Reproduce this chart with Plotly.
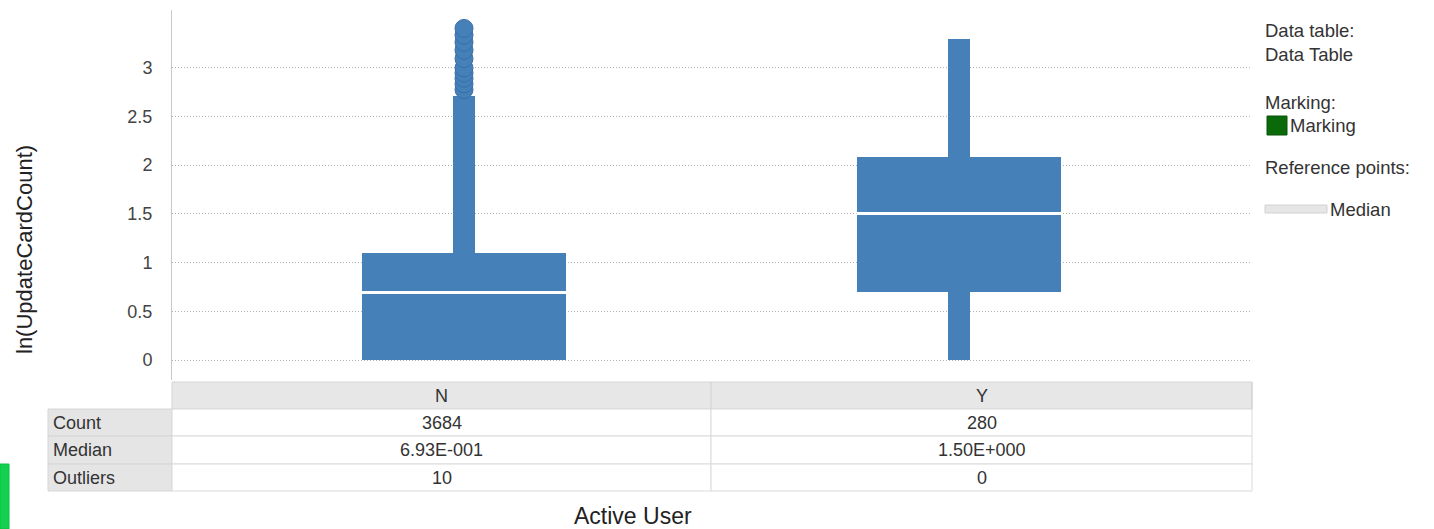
import plotly.graph_objects as go

# ---------------- data ----------------
categories = ["N", "Y"]
q1 = [0.0, 0.693]
median = [0.693, 1.504]
q3 = [1.099, 2.079]
whisker_low = [0.0, 0.0]
whisker_high = [2.708, 3.296]
outliers_N = [2.773, 2.833, 2.890, 2.944, 2.996, 3.091, 3.178, 3.258, 3.332, 3.401]
counts = [3684, 280]
outlier_counts = [10, 0]
ytick_vals = [0, 0.5, 1, 1.5, 2, 2.5, 3]
ytick_text = ["0", "0.5", "1", "1.5", "2", "2.5", "3"]
row_labels = ["Count", "Median", "Outliers"]

# ---------------- layout constants ----------------
W, H = 1434, 529
L, R, T, B = 172, 182, 10, 149
PW, PH = W - L - R, H - T - B
BLUE = "#4580b8"
FONT = "Liberation Sans, Arial, sans-serif"
TXT = "#333333"
BOX_W = 0.414
WHISK_W = 0.046


def px(xp):
    return (xp - L) / PW


def py(yp):
    return (H - B - yp) / PH


def sci(v):
    s = f"{v:.2E}"
    mant, exp = s.split("E")
    sign = exp[0]
    return f"{mant}E{sign}{int(exp[1:]):03d}"


xs = list(range(len(categories)))

fig = go.Figure()

# whiskers
fig.add_trace(go.Bar(
    x=xs, base=whisker_low,
    y=[h - l for h, l in zip(whisker_high, whisker_low)],
    width=WHISK_W, marker=dict(color=BLUE, line=dict(width=0)),
    hoverinfo="skip", showlegend=False))
# boxes
fig.add_trace(go.Bar(
    x=xs, base=q1, y=[b - a for a, b in zip(q1, q3)],
    width=BOX_W, marker=dict(color=BLUE, line=dict(width=0)),
    showlegend=False))
# outliers
fig.add_trace(go.Scatter(
    x=[xs[0]] * len(outliers_N), y=outliers_N, mode="markers",
    marker=dict(size=18, color=BLUE, line=dict(color="#3a6fa6", width=1)),
    showlegend=False))

shapes = []
# median lines
for xi, m in zip(xs, median):
    shapes.append(dict(type="line", xref="x", yref="y",
                       x0=xi - BOX_W / 2, x1=xi + BOX_W / 2, y0=m, y1=m,
                       line=dict(color="white", width=3)))

annotations = []

# ---------------- table ----------------
col_edges = [172, 711, 1252]
row_edges = [409, 436, 464, 491]
# header row
shapes.append(dict(type="rect", xref="paper", yref="paper",
                   x0=px(172), x1=px(1252), y0=py(409), y1=py(382),
                   fillcolor="#e7e7e7", line=dict(color="#d6d6d6", width=1), layer="below"))
for i in range(len(categories)):
    shapes.append(dict(type="line", xref="paper", yref="paper",
                       x0=px(col_edges[i + 1]), x1=px(col_edges[i + 1]),
                       y0=py(409), y1=py(382), line=dict(color="#d0d0d0", width=1)))
    annotations.append(dict(xref="paper", yref="paper",
                            x=px((col_edges[i] + col_edges[i + 1]) / 2), y=py(396),
                            text=categories[i], showarrow=False,
                            font=dict(family=FONT, size=18, color=TXT),
                            xanchor="center", yanchor="middle"))

row_values = [[str(c) for c in counts], [sci(m) for m in median], [str(o) for o in outlier_counts]]
for r in range(len(row_labels)):
    y0, y1 = row_edges[r], row_edges[r + 1]
    shapes.append(dict(type="rect", xref="paper", yref="paper",
                       x0=px(48), x1=px(172), y0=py(y1), y1=py(y0),
                       fillcolor="#e5e5e5", line=dict(color="#d6d6d6", width=1), layer="below"))
    annotations.append(dict(xref="paper", yref="paper", x=px(51), y=py((y0 + y1) / 2),
                            text=row_labels[r], showarrow=False,
                            font=dict(family=FONT, size=18, color=TXT),
                            xanchor="left", yanchor="middle"))
    for c in range(len(categories)):
        shapes.append(dict(type="rect", xref="paper", yref="paper",
                           x0=px(col_edges[c]), x1=px(col_edges[c + 1]), y0=py(y1), y1=py(y0),
                           fillcolor="white", line=dict(color="#dadada", width=1), layer="below"))
        annotations.append(dict(xref="paper", yref="paper",
                                x=px((col_edges[c] + col_edges[c + 1]) / 2), y=py((y0 + y1) / 2),
                                text=row_values[r][c], showarrow=False,
                                font=dict(family=FONT, size=18, color=TXT),
                                xanchor="center", yanchor="middle"))

# axis titles
annotations.append(dict(xref="paper", yref="paper", x=px(24), y=py(250),
                        text="ln(UpdateCardCount)", textangle=-90, showarrow=False,
                        font=dict(family=FONT, size=22, color="#222"),
                        xanchor="center", yanchor="middle"))
annotations.append(dict(xref="paper", yref="paper", x=px(633), y=py(516),
                        text="Active User", showarrow=False,
                        font=dict(family=FONT, size=23, color="#222"),
                        xanchor="center", yanchor="middle"))

# ---------------- legend panel ----------------
legend_items = [("Data table:", 1263, 31), ("Data Table", 1263, 54), ("Marking:", 1263, 102),
                ("Marking", 1288, 125), ("Reference points:", 1263, 167), ("Median", 1328, 209)]
for text, lx, ly in legend_items:
    annotations.append(dict(xref="paper", yref="paper", x=px(lx), y=py(ly),
                            text=text, showarrow=False,
                            font=dict(family=FONT, size=18.5, color=TXT),
                            xanchor="left", yanchor="middle"))
shapes.append(dict(type="rect", xref="paper", yref="paper",
                   x0=px(1267), x1=px(1287), y0=py(135), y1=py(116),
                   fillcolor="#0a6a0a", line=dict(color="#085508", width=1)))
shapes.append(dict(type="rect", xref="paper", yref="paper",
                   x0=px(1265), x1=px(1327), y0=py(213), y1=py(205),
                   fillcolor="#e6e6e6", line=dict(color="#d2d2d2", width=1)))
# green edge mark at lower left
shapes.append(dict(type="rect", xref="paper", yref="paper",
                   x0=px(0), x1=px(9), y0=py(529), y1=py(464),
                   fillcolor="#12d150", line=dict(color="#0bbf45", width=1)))

fig.update_layout(
    width=W, height=H,
    margin=dict(l=L, r=R, t=T, b=B, pad=0),
    paper_bgcolor="white", plot_bgcolor="white",
    barmode="overlay", bargap=0,
    shapes=shapes, annotations=annotations,
    showlegend=False,
    font=dict(family=FONT, size=18, color=TXT),
)
fig.update_xaxes(range=[-0.5899, 1.5919], showticklabels=False, showgrid=False,
                 zeroline=False, showline=False, fixedrange=True)
fig.update_yaxes(range=[-0.205, 3.590], tickvals=ytick_vals, ticktext=ytick_text,
                 showgrid=True, gridcolor="#b0b0b0", griddash="1px,2px", gridwidth=1,
                 zeroline=False, showline=True, linecolor="#c8c8c8", linewidth=1,
                 ticks="", ticklabelstandoff=15,
                 tickfont=dict(family=FONT, size=18, color="#444"))

fig.write_html("out.html")
